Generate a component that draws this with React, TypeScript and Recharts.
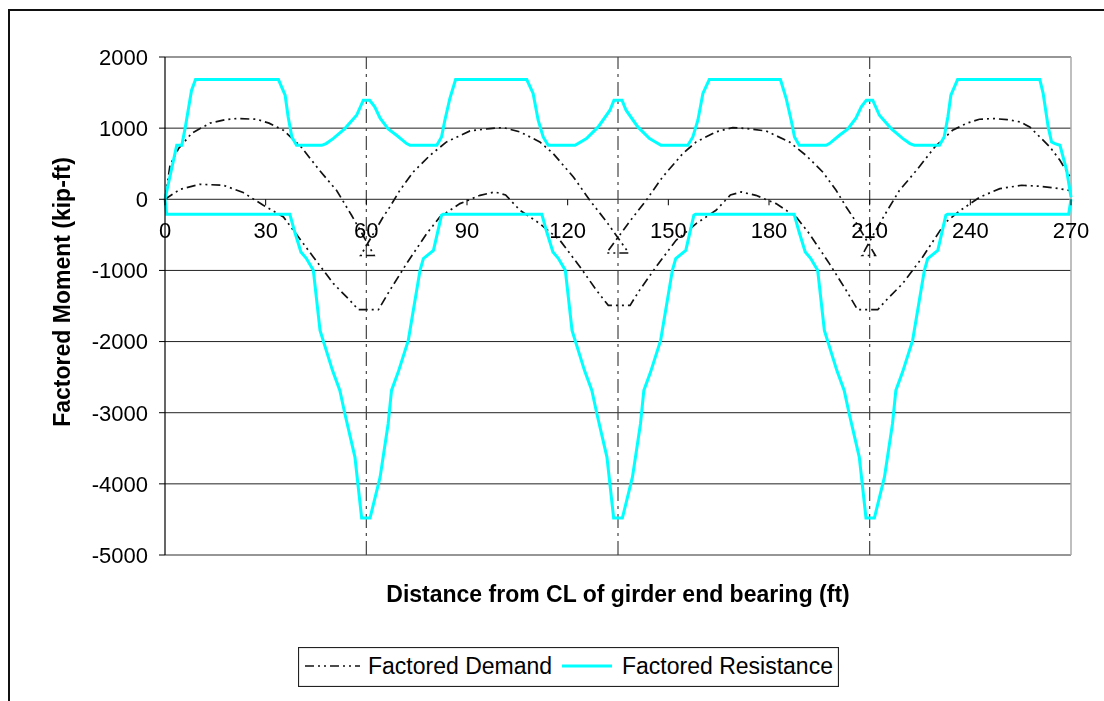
import React from "react";
import {
  LineChart,
  Line,
  XAxis,
  YAxis,
  CartesianGrid,
  ReferenceLine,
  ReferenceDot,
} from "recharts";

const FONT = "Arial, 'Liberation Sans', Helvetica, sans-serif";

// Axis ticks
const xTicks = [0, 30, 60, 90, 120, 150, 180, 210, 240, 270];
const yTicks = [-5000, -4000, -3000, -2000, -1000, 0, 1000, 2000];

// Interior support locations (ft)
const supports = [60, 135, 210];

// Factored demand, positive-moment envelope [distance ft, moment kip-ft]
const demandUpper: [number, number][] = [
  [0, 0], [1.5, 480], [4, 710], [8, 930], [13.4, 1070], [18, 1120], [21.4, 1135],
  [27.3, 1125], [31, 1070], [35.3, 970], [40.5, 740], [46, 410], [51.2, 120],
  [55.6, -225], [58.1, -430], [62.3, -790], [58.3, -790], [65, -249], [67, -108],
  [70, 127], [74, 384], [79, 619], [83.9, 806], [90.9, 961], [96.8, 994],
  [100.8, 1008], [105.8, 947], [111.7, 806], [115.7, 642], [121.7, 314],
  [126.6, -14], [131.5, -310], [138.2, -755], [131.6, -755], [138.5, -310],
  [143.4, -14], [148.3, 314], [154.3, 642], [158.3, 806], [164.2, 947],
  [169.2, 1008], [173.2, 994], [179.1, 961], [186.1, 806], [191, 619], [196, 384],
  [200, 127], [203, -108], [205, -249], [211.7, -790], [207.7, -790],
  [211.9, -430], [214.4, -225], [218.8, 120], [224, 410], [229.5, 740],
  [234.7, 970], [239, 1070], [242.7, 1125], [246.8, 1135], [251, 1120],
  [254.8, 1088], [257.7, 1017], [260.7, 876], [263.7, 736], [266.7, 549],
  [270, 290],
];

// Factored demand, negative-moment envelope [distance ft, moment kip-ft]
const demandLower: [number, number][] = [
  [0, 0], [4.5, 140], [10.4, 211], [17.4, 197], [23.3, 95], [29.3, -84],
  [35.3, -249], [44.2, -811], [50.2, -1186], [55.1, -1420], [57.6, -1552],
  [63.6, -1552], [67, -1280], [72, -904], [78, -482], [81.9, -249], [87.9, -61],
  [93.9, 56], [98.3, 103], [101.5, 60], [105.8, -155], [111.7, -342],
  [117.7, -577], [123.7, -952], [128.6, -1280], [132.1, -1491], [138.6, -1491],
  [141.4, -1280], [146.3, -952], [152.3, -577], [158.3, -342], [164.2, -155],
  [168.5, 60], [171.7, 103], [176.1, 56], [182.1, -61], [188.1, -249],
  [192, -482], [198, -904], [203, -1280], [206.4, -1552], [212.4, -1552],
  [214.9, -1420], [219.8, -1186], [225.8, -811], [232.5, -330], [236.9, -160],
  [242.9, 32], [248.8, 150], [255.3, 197], [260.7, 183], [265.2, 159],
  [270, 120],
];

// Factored resistance, positive flexure [distance ft, moment kip-ft]
const resistancePos: [number, number][] = [
  [0, 0], [3.5, 759], [5, 759], [6, 1000], [7.9, 1530], [9.1, 1683],
  [33.8, 1683], [35.8, 1463], [36.7, 1158], [37.8, 876], [39.2, 759],
  [46.7, 759], [48, 783], [50.1, 853], [53.6, 994], [57.1, 1181], [59.1, 1392],
  [61, 1392], [62.5, 1300], [64.1, 1140], [66.5, 990], [69, 900], [72, 783],
  [73, 759], [81, 759], [82.4, 876], [83.4, 1111], [84.9, 1420], [86.6, 1683],
  [107.8, 1683], [109.7, 1487], [111.2, 1111], [112.7, 876], [114.2, 759],
  [122.2, 759], [125.6, 853], [129.1, 1017], [132.6, 1252], [133.8, 1392],
  [136.2, 1392], [137.4, 1252], [140.9, 1017], [144.4, 853], [147.8, 759],
  [155.8, 759], [157.3, 876], [158.8, 1111], [160.3, 1487], [162.2, 1683],
  [183.4, 1683], [185.1, 1420], [186.6, 1111], [187.6, 876], [189, 759],
  [197, 759], [198, 783], [201, 900], [203.5, 990], [205.9, 1140],
  [207.5, 1300], [209, 1392], [210.9, 1392], [212.9, 1181], [216.4, 994],
  [219.9, 853], [222, 783], [223.3, 759], [230.8, 759], [232.2, 876],
  [233.3, 1158], [234.2, 1463], [236.2, 1683], [260.7, 1683], [261.7, 1487],
  [263.2, 1017], [264.2, 806], [265.2, 783], [266.7, 759], [268.7, 408],
  [270, 30],
];

// Factored resistance, negative flexure [distance ft, moment kip-ft]
const resistanceNeg: [number, number][] = [
  [0, 0], [0.5, -211], [37.2, -211], [38.6, -450], [40.5, -741], [42.1, -830],
  [44.2, -999], [46.2, -1842], [49.9, -2405], [52.1, -2686], [53.6, -3014],
  [56.6, -3624], [58.6, -4480], [61.1, -4480], [64.1, -3906], [66.5, -3155],
  [67.5, -2686], [69.5, -2429], [72.5, -1983], [76, -999], [77, -834],
  [80, -717], [82.4, -225], [82.9, -211], [112.3, -211], [113.7, -450],
  [115.6, -741], [117.2, -830], [119.3, -999], [121.3, -1842], [125, -2405],
  [127.2, -2686], [128.7, -3014], [131.7, -3624], [133.7, -4480],
  [136.3, -4480], [139.3, -3906], [141.7, -3155], [142.7, -2686],
  [144.7, -2429], [147.7, -1983], [151.2, -999], [152.2, -834], [155.2, -717],
  [157.6, -225], [158.1, -211], [187.5, -211], [188.9, -450], [190.8, -741],
  [192.4, -830], [194.5, -999], [196.5, -1842], [200.2, -2405], [202.4, -2686],
  [203.9, -3014], [206.9, -3624], [208.9, -4480], [211.4, -4480],
  [214.4, -3906], [216.8, -3155], [217.8, -2686], [219.8, -2429],
  [222.8, -1983], [226.3, -999], [227.3, -834], [230.3, -717], [232.7, -225],
  [233.2, -211], [269.3, -211], [270, 0],
];

const toRows = (pts: [number, number][]) => pts.map(([x, m]) => ({ x, m }));

const DEMAND_DASH = "9 4 2 4 2 4";
const CYAN = "#00FFFF";

const renderXTick = (label: number) => (props: any) => {
  const { cx, cy } = props;
  return (
    <g>
      <line x1={cx} y1={cy} x2={cx} y2={cy + 6} stroke="#000" strokeWidth={1} />
      <text
        x={cx}
        y={cy + 39}
        textAnchor="middle"
        fontSize={22}
        fontFamily={FONT}
        fill="#000"
      >
        {label}
      </text>
    </g>
  );
};

const YTitle = (props: any) => {
  const vb = props.viewBox || { x: 0, y: 0, width: 0, height: 0 };
  const cx = vb.x + 54;
  const cy = vb.y + vb.height / 2 - 14;
  return (
    <text
      x={cx}
      y={cy}
      transform={`rotate(-90, ${cx}, ${cy})`}
      textAnchor="middle"
      dominantBaseline="central"
      fontSize={23}
      fontWeight="bold"
      fontFamily={FONT}
      fill="#000"
    >
      Factored Moment (kip-ft)
    </text>
  );
};

export default function App() {
  return (
    <div
      style={{
        position: "relative",
        width: 1088,
        height: 685,
        fontFamily: FONT,
        background: "#fff",
      }}
    >
      {/* outer chart frame, running off the page edges */}
      <div
        style={{
          position: "fixed",
          left: 8,
          top: 9,
          width: 1300,
          height: 900,
          borderTop: "2px solid #111",
          borderLeft: "2px solid #111",
          boxSizing: "border-box",
          pointerEvents: "none",
        }}
      />
      <div style={{ position: "absolute", left: 0, top: 0 }}>
        <LineChart
          width={1088}
          height={685}
          margin={{ top: 49, right: 25, bottom: 88, left: 0 }}
        >
          <CartesianGrid vertical={false} stroke="#222" strokeWidth={1} />
          <XAxis
            dataKey="x"
            type="number"
            domain={[0, 270]}
            ticks={xTicks}
            tick={false}
            axisLine={false}
            tickLine={false}
            height={50}
            label={{
              value: "Distance from CL of girder end bearing (ft)",
              position: "insideBottom",
              offset: 3,
              fontSize: 23,
              fontWeight: "bold",
              fill: "#000",
            }}
          />
          <YAxis
            type="number"
            domain={[-5000, 2000]}
            ticks={yTicks}
            width={157}
            interval={0}
            axisLine={{ stroke: "#000", strokeWidth: 1.2 }}
            tickLine={{ stroke: "#000" }}
            tickSize={6}
            tickMargin={11}
            tick={{ fontSize: 22, fill: "#000" }}
            label={<YTitle />}
          />
          <ReferenceLine y={2000} stroke="#999" strokeWidth={1.5} />
          <ReferenceLine y={-5000} stroke="#999" strokeWidth={1.5} />
          <ReferenceLine x={270} stroke="#aaa" strokeWidth={1.5} />
          {supports.map((s) => (
            <ReferenceLine
              key={s}
              x={s}
              stroke="#444"
              strokeWidth={1.2}
              strokeDasharray="14 5 3 5"
            />
          ))}
          {xTicks.map((t) => (
            <ReferenceDot
              key={`t${t}`}
              x={t}
              y={0}
              r={0}
              ifOverflow="visible"
              shape={renderXTick(t)}
            />
          ))}
          <Line
            data={toRows(demandUpper)}
            dataKey="m"
            type="linear"
            stroke="#111"
            strokeWidth={1.7}
            strokeDasharray={DEMAND_DASH}
            dot={false}
            activeDot={false}
            isAnimationActive={false}
          />
          <Line
            data={toRows(demandLower)}
            dataKey="m"
            type="linear"
            stroke="#111"
            strokeWidth={1.7}
            strokeDasharray={DEMAND_DASH}
            dot={false}
            activeDot={false}
            isAnimationActive={false}
          />
          <Line
            data={toRows(resistancePos)}
            dataKey="m"
            type="linear"
            stroke={CYAN}
            strokeWidth={3}
            dot={false}
            activeDot={false}
            isAnimationActive={false}
          />
          <Line
            data={toRows(resistanceNeg)}
            dataKey="m"
            type="linear"
            stroke={CYAN}
            strokeWidth={3}
            dot={false}
            activeDot={false}
            isAnimationActive={false}
          />
        </LineChart>
      </div>
      <svg
        width={541}
        height={40}
        style={{ position: "absolute", left: 290, top: 639 }}
      >
        <rect x={0.5} y={0.5} width={540} height={39} fill="#fff" stroke="#222" strokeWidth={1.2} />
        <line x1={7} y1={19} x2={62} y2={19} stroke="#111" strokeWidth={1.7} strokeDasharray={DEMAND_DASH} />
        <text x={70} y={27} fontSize={23} fontFamily={FONT} fill="#000">
          Factored Demand
        </text>
        <line x1={264} y1={19} x2={314} y2={19} stroke={CYAN} strokeWidth={3} />
        <text x={324} y={27} fontSize={23} fontFamily={FONT} fill="#000">
          Factored Resistance
        </text>
      </svg>
    </div>
  );
}
